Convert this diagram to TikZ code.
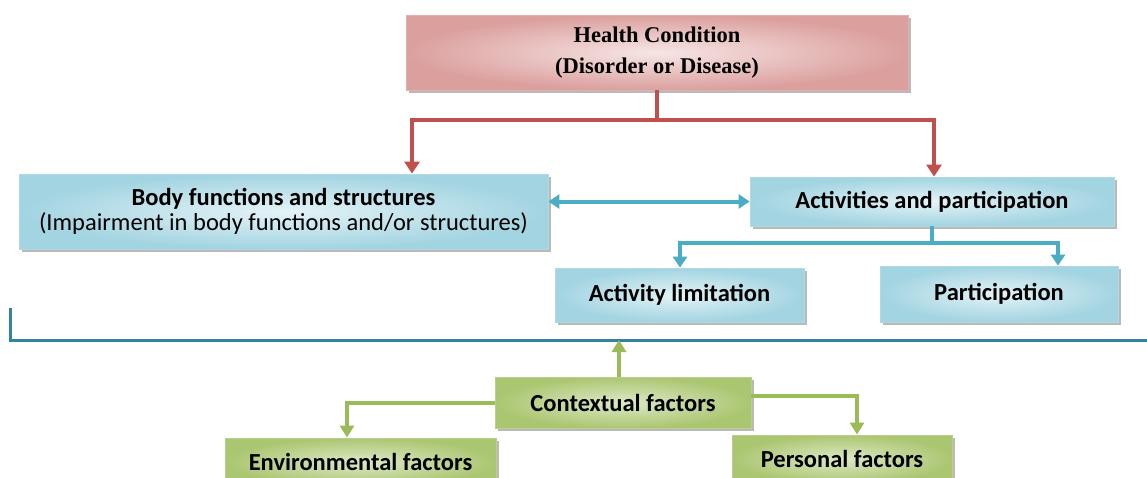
\documentclass[tikz,border=0pt]{standalone}
\usepackage{fontspec}
\setmainfont{Carlito}
\newfontfamily\serifhc{Liberation Serif}
\usetikzlibrary{shadows,arrows.meta,calc}
\definecolor{redE}{HTML}{C0504D}
\definecolor{redL}{HTML}{F6E6E5}
\definecolor{redD}{HTML}{DBA09E}
\definecolor{bluE}{HTML}{4BACC6}
\definecolor{bluL}{HTML}{E4F3F7}
\definecolor{bluD}{HTML}{A2D4E1}
\definecolor{grnE}{HTML}{9BBB59}
\definecolor{grnL}{HTML}{DDE9C6}
\definecolor{grnD}{HTML}{ABC671}
\definecolor{barcol}{HTML}{31849B}
\tikzset{
  box/.style={draw, line width=0.8pt, inner sep=0pt, align=center,
    drop shadow={shadow xshift=3pt, shadow yshift=-3pt, fill=black!50, opacity=0.55}},
  redbox/.style={box, draw=redE!45, inner color=redL, outer color=redD,
    font=\serifhc\bfseries\fontsize{22.5}{31}\selectfont},
  blubox/.style={box, draw=bluE!45, inner color=bluL, outer color=bluD,
    font=\bfseries\fontsize{24.5}{25}\selectfont},
  grnbox/.style={box, draw=grnE!70, inner color=grnL, outer color=grnD,
    font=\bfseries\fontsize{24.5}{26}\selectfont},
  redarrow/.style={draw=redE, line width=4pt, -{Triangle[width=15pt,length=12pt]}},
  bluarrow/.style={draw=bluE, line width=4pt, -{Triangle[width=14pt,length=11pt]}},
  grnarrow/.style={draw=grnE, line width=4pt, -{Triangle[width=14pt,length=12pt]}},
}
\begin{document}
\begin{tikzpicture}[x=1pt,y=-1pt]
\path[use as bounding box, fill=white] (0,0) rectangle (1147,477);
\clip (0,0) rectangle (1147,477);

\node[redbox, minimum width=502pt, minimum height=75pt] (hc) at (657,52.5)
  {Health Condition\\(Disorder or Disease)};
\node[blubox, minimum width=529pt, minimum height=75pt] (bf) at (283.5,211.5)
  {Body functions and structures\\{\mdseries (Impairment in body functions and/or structures)}};
\node[blubox, minimum width=364pt, minimum height=49pt] (ap) at (932,201.5)
  {Activities and participation};
\node[blubox, minimum width=249pt, minimum height=54pt] (al) at (679.5,295)
  {Activity limitation};
\node[blubox, minimum width=238pt, minimum height=56pt] (pa) at (999,294)
  {Participation};
\node[grnbox, minimum width=256pt, minimum height=51pt] (cf) at (623,402.5)
  {Contextual factors};
\node[grnbox, minimum width=271pt, minimum height=48pt] (env) at (360.5,462)
  {Environmental factors};
\node[grnbox, minimum width=220pt, minimum height=48pt] (pf) at (842,459)
  {Personal factors};

\coordinate (r1) at (412,120);
\coordinate (r2) at (934,120);
\draw[redarrow] (hc.south) |- (r1) -- (r1 |- bf.north);
\draw[redarrow] (hc.south) |- (r2) -- (r2 |- ap.north);

\draw[bluarrow, {Triangle[width=14pt,length=11pt]}-{Triangle[width=14pt,length=11pt]}]
  (bf.east |- ap.west) -- (ap.west);

\coordinate (b1) at (680,243);
\coordinate (b2) at (1058,243);
\draw[bluarrow] (ap.south) |- (b1) -- (b1 |- al.north);
\draw[bluarrow] (ap.south) |- (b2) -- (b2 |- pa.north);

\coordinate (barL) at (10,308);
\coordinate (barR) at (1147,340);
\draw[barcol, line width=3pt] (barL) |- (barR);

\coordinate (g0) at (619,377);
\draw[grnarrow] (g0) -- (g0 |- barR);
\coordinate (g1) at (347,403);
\coordinate (g2) at (857,396);
\draw[grnarrow] (cf.west |- g1) -- (g1) -- (g1 |- env.north);
\draw[grnarrow] (cf.east |- g2) -- (g2) -- (g2 |- pf.north);
\end{tikzpicture}
\end{document}
